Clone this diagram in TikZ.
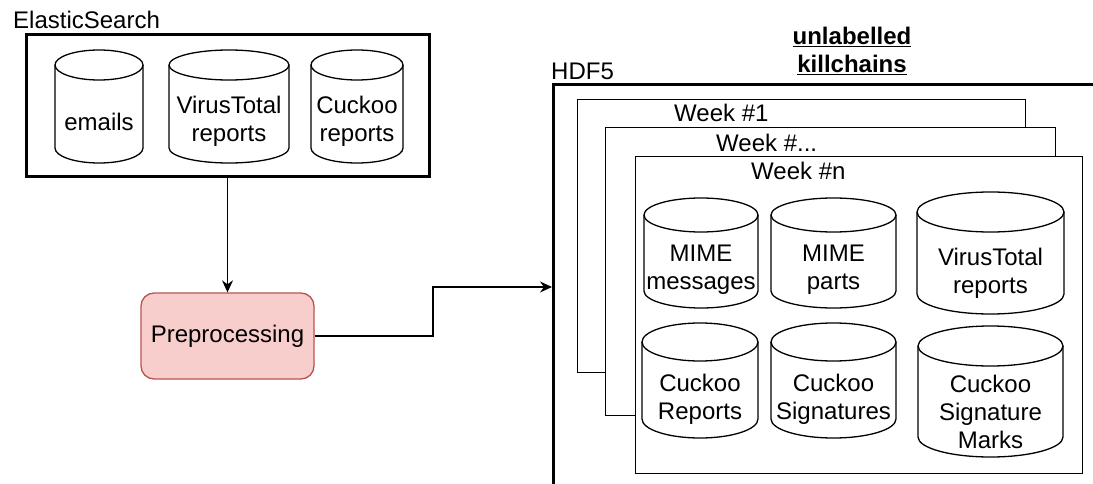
\documentclass[tikz,border=0pt]{standalone}
\usepackage{fontspec}
\setmainfont{Liberation Sans}
\usetikzlibrary{arrows.meta}
\tikzset{
  thinline/.style={line width=1.3pt, draw=black},
  cylline/.style={line width=1.3pt, draw=black, fill=white},
  cyltext/.style={inner sep=0pt, align=center, font=\fontsize{24}{28}\selectfont},
  lbl/.style={inner sep=0pt, font=\fontsize{24}{28}\selectfont},
  container/.style={draw=black, line width=3pt, inner sep=0pt, anchor=north west},
  weekbox/.style={draw=black, line width=1.3pt, fill=white, inner sep=0pt, anchor=north west},
  procbox/.style={draw={rgb,255:red,184;green,84;blue,80}, fill={rgb,255:red,248;green,206;blue,204},
     line width=1.3pt, rounded corners=13pt, inner sep=0pt, font=\fontsize{24}{28}\selectfont},
  conn/.style={line width=1.3pt, draw=black, -{Stealth[length=12pt,width=11pt,inset=4pt]}}
}
% #1 name, #2 x1, #3 y1, #4 x2, #5 y2, #6 ry, #7 text
\newcommand\dbcyl[7]{%
  \pgfmathsetmacro\myrx{(#4-#2)/2}%
  \draw[cylline] ({#2},{#3+#6}) arc[start angle=180,end angle=0,x radius=\myrx pt,y radius=#6 pt]
     -- ({#4},{#5-#6}) arc[start angle=0,end angle=-180,x radius=\myrx pt,y radius=#6 pt] -- cycle;
  \draw[thinline] ({#2},{#3+#6}) arc[start angle=180,end angle=360,x radius=\myrx pt,y radius=#6 pt];
  \node[cyltext] (#1) at ({(#2+#4)/2},{(#3+2*#6+#5)/2}) {#7};
}
% #1 style, #2 name, #3 x1, #4 y1, #5 x2, #6 y2
\newcommand\boxat[6]{%
  \node[#1, minimum width={(#5-#3)*1pt}, minimum height={(#6-#4)*1pt}] (#2) at (#3,#4) {};
}
\begin{document}
\begin{tikzpicture}[x=1pt,y=-1pt]
\useasboundingbox (0,0) rectangle (1093,484);

% ElasticSearch
\boxat{container}{es}{25}{33}{428}{175}
\node[lbl, anchor=base west] (eslbl) at (13,29) {ElasticSearch};
\dbcyl{emails}{55}{50}{143}{163}{15}{emails}
\dbcyl{vt}{169}{50}{289}{163}{15}{VirusTotal\\reports}
\dbcyl{cuckoo}{311}{50}{403}{163}{15}{Cuckoo\\reports}

% Preprocessing
\node[procbox, minimum width=173pt, minimum height=86pt] (pre) at (227.5,336) {Preprocessing};

% HDF5
\boxat{container}{hdf}{552}{83}{1130}{520}
\node[lbl, anchor=base west] (hdflbl) at (551,80) {HDF5};
\node[inner sep=0pt, align=center, font=\fontsize{24}{28}\selectfont\bfseries] (title) at (852,50.5)
  {\underline{unlabelled}\\\underline{killchains}};

% Weeks
\boxat{weekbox}{w1}{577}{99}{1025}{372}
\node[lbl, anchor=base west] (w1lbl) at (674,122) {Week \#1};
\boxat{weekbox}{w2}{605}{127}{1055}{415}
\node[lbl, anchor=base west] (w2lbl) at (716,152) {Week \#...};
\boxat{weekbox}{wn}{635}{156}{1082}{473}
\node[lbl, anchor=base west] (wnlbl) at (751,180) {Week \#n};

\dbcyl{mimemsg}{644}{198}{758}{308}{17}{MIME\\messages}
\dbcyl{mimeparts}{771}{198}{896}{308}{17}{MIME\\parts}
\dbcyl{vt2}{917}{192}{1064}{314}{20}{VirusTotal\\reports}
\dbcyl{cuckrep}{642}{323}{758}{438}{19}{Cuckoo\\Reports}
\dbcyl{cucksig}{771}{323}{896}{438}{19}{Cuckoo\\Signatures}
\dbcyl{marks}{918}{326}{1063}{457}{20}{Cuckoo\\Signature\\Marks}

% connectors
\coordinate (bend) at (433,287);
\draw[conn] (pre.north |- es.south) -- (pre.north);
\draw[conn] (pre.east) -| (bend) -- (hdf.west |- bend);
\end{tikzpicture}
\end{document}
